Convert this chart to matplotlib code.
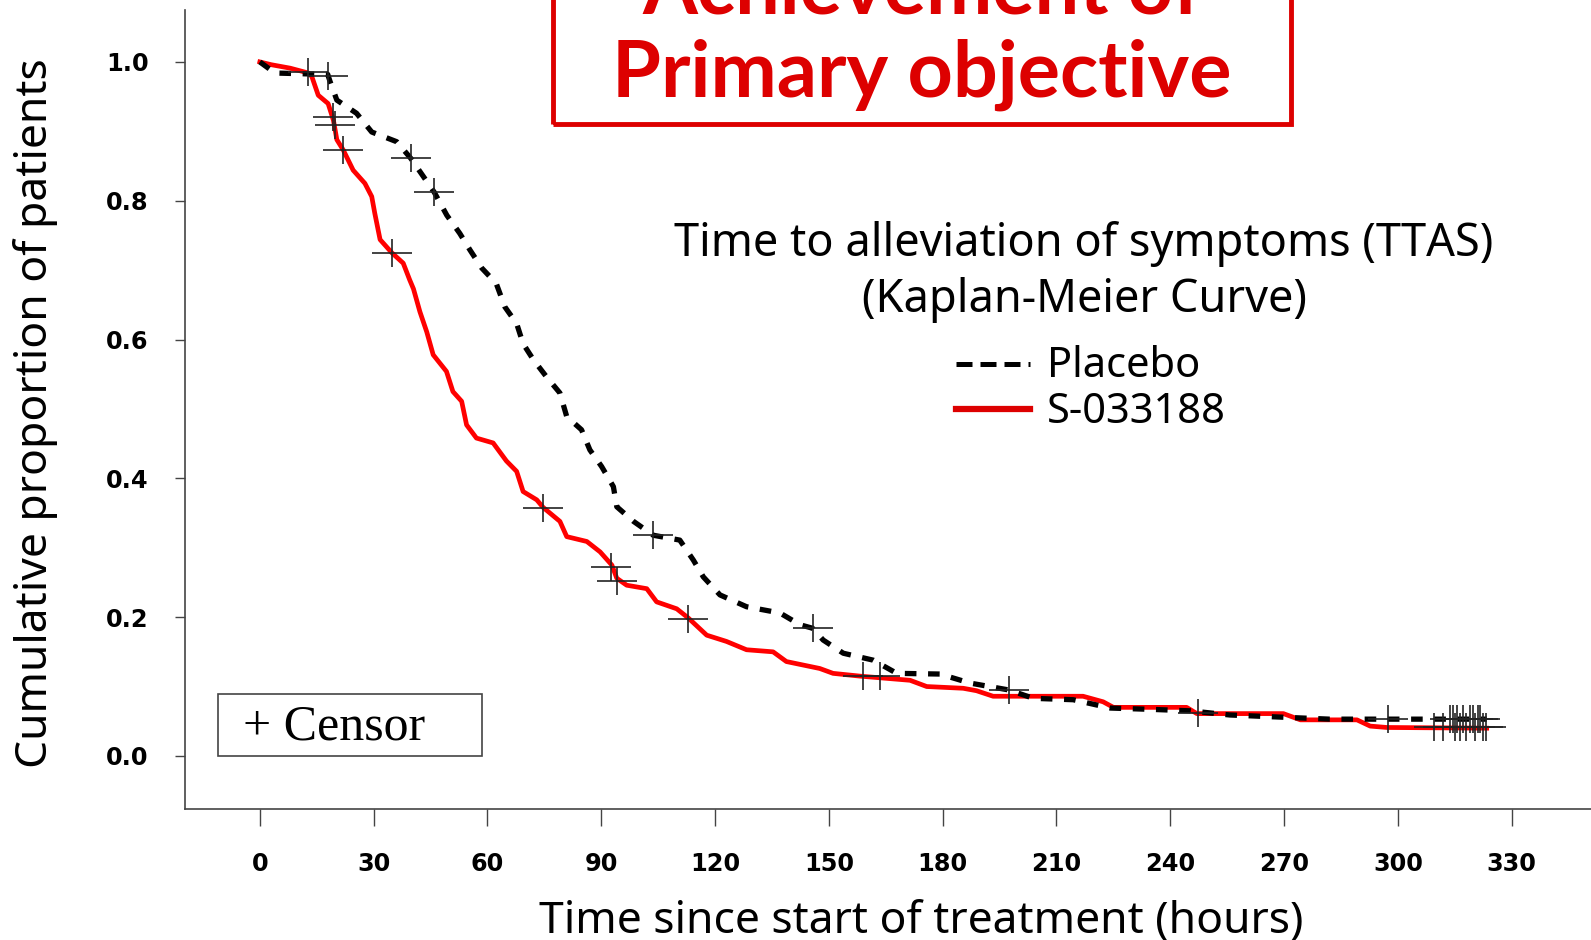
import matplotlib
matplotlib.use("Agg")
import matplotlib.pyplot as plt
from matplotlib.path import Path
from matplotlib.lines import Line2D
from matplotlib.patches import Rectangle

# Kaplan-Meier curve points (hours, proportion)
s033188_t = [0, 3, 8, 12.8, 13.7, 15.4, 18, 19.4, 20.3, 22, 24.6, 27.7, 29.5, 30.3,
             31.7, 34.8, 37.8, 39.5, 40.5, 42.2, 44, 45.7, 49.2, 50.9, 53.2, 54.5,
             57.1, 61.5, 65, 67.7, 69.4, 73, 74.7, 79.1, 80.9, 86.2, 89.7, 92.8, 94.1,
             96.7, 102, 104.6, 109.9, 112.9, 117.8, 123, 128.3, 135.3, 138.8, 147.6,
             151.1, 158.2, 171.4, 175.8, 185.4, 188.9, 193.3, 217, 222.3, 225, 244.3,
             247, 269.8, 274.3, 289.2, 292.7, 297.1, 323.4]
s033188_s = [1.0, 0.996, 0.991, 0.984, 0.979, 0.952, 0.940, 0.916, 0.888, 0.873, 0.844,
             0.825, 0.806, 0.782, 0.744, 0.725, 0.710, 0.686, 0.673, 0.640, 0.611, 0.578,
             0.554, 0.525, 0.511, 0.477, 0.458, 0.451, 0.425, 0.410, 0.381, 0.369, 0.358,
             0.338, 0.316, 0.309, 0.294, 0.275, 0.256, 0.246, 0.241, 0.222, 0.212, 0.199,
             0.174, 0.165, 0.153, 0.150, 0.136, 0.126, 0.119, 0.115, 0.109, 0.100, 0.0975,
             0.094, 0.086, 0.086, 0.078, 0.070, 0.070, 0.061, 0.061, 0.052, 0.052, 0.043,
             0.041, 0.040]

placebo_t = [0, 4, 17.9, 18.5, 20.3, 25.5, 29.5, 36.1, 39.8, 43.1, 46, 49.3, 52.7, 55.4,
             58.5, 62.3, 64.6, 67.7, 69.4, 72.1, 75.6, 79.1, 80.9, 84.8, 87, 90.1, 93.2,
             94.1, 98.5, 103.7, 110.7, 114.3, 116.9, 121.3, 128.3, 137.1, 142.4, 145.7,
             148.5, 153.8, 161.7, 167.9, 179.3, 187.2, 197.5, 203.9, 214.4, 224.2, 235.5,
             245.2, 255.7, 282, 323.4]
placebo_s = [1.0, 0.984, 0.982, 0.972, 0.945, 0.926, 0.899, 0.885, 0.861, 0.835, 0.812,
             0.779, 0.753, 0.729, 0.703, 0.681, 0.647, 0.623, 0.594, 0.571, 0.546, 0.523,
             0.489, 0.470, 0.441, 0.417, 0.388, 0.359, 0.338, 0.318, 0.311, 0.282, 0.258,
             0.232, 0.215, 0.206, 0.189, 0.184, 0.167, 0.148, 0.138, 0.119, 0.118, 0.105,
             0.095, 0.083, 0.081, 0.069, 0.067, 0.065, 0.059, 0.053, 0.053]

# censored observations
s033188_cens_t = [12.8, 19.4, 19.9, 22, 34.8, 74.7, 92.5, 94.2, 112.9, 158.9, 163.4,
                  309.6, 311.8, 315.0, 316.3, 318.0, 320.3, 322.3, 323.1]
s033188_cens_s = [0.985, 0.921, 0.909, 0.873, 0.725, 0.357, 0.272, 0.252, 0.198, 0.115,
                  0.115, 0.041, 0.041, 0.041, 0.041, 0.041, 0.041, 0.041, 0.041]
placebo_cens_t = [17.9, 39.8, 46.0, 103.7, 145.7, 197.5, 247.4, 297.3,
                  313.7, 314.4, 315.7, 317.2, 319.1, 319.7, 321.0, 321.6]
placebo_cens_s = [0.980, 0.861, 0.812, 0.318, 0.184, 0.095, 0.062, 0.053,
                  0.053, 0.053, 0.053, 0.053, 0.053, 0.053, 0.053, 0.053]

xticks = list(range(0, 331, 30))
yticks = [0.0, 0.2, 0.4, 0.6, 0.8, 1.0]

W, H = 1591, 940
RED = "#DD0000"
SANS = "Noto Sans"


def fx(x):
    return x / W


def fy(y):
    return 1 - y / H


fig = plt.figure(figsize=(15.91, 9.40), dpi=100)
ax = fig.add_axes([0.1161, 0.1397, 0.8839, 0.8495])
ax.set_xlim(-19.8, 350.9)
ax.set_ylim(-0.076, 1.0746)

ax.plot(placebo_t, placebo_s, color="black", lw=3.8,
        linestyle=(0, (2.2, 2.2)), zorder=3)
ax.plot(s033188_t, s033188_s, color="#FF0000", lw=3.4, zorder=2)

plus = Path([(-1, 0), (1, 0), (0, -0.68), (0, 0.68)],
            [Path.MOVETO, Path.LINETO, Path.MOVETO, Path.LINETO])
for ct, cs in [(s033188_cens_t, s033188_cens_s), (placebo_cens_t, placebo_cens_s)]:
    ax.plot(ct, cs, linestyle="none", marker=plus, markersize=29,
            markeredgewidth=1.2, markeredgecolor="#222222", zorder=4)

for side in ["top", "right"]:
    ax.spines[side].set_visible(False)
for side in ["left", "bottom"]:
    ax.spines[side].set_color("#444444")
    ax.spines[side].set_linewidth(1.2)

ax.set_xticks(xticks)
ax.set_xticklabels([str(v) for v in xticks])
ax.set_yticks(yticks)
ax.set_yticklabels(["%.1f" % v for v in yticks])
ax.tick_params(axis="x", length=12.5, width=1.0, color="#444444", pad=19,
               labelsize=17.3)
ax.tick_params(axis="y", length=7, width=1.0, color="#444444", pad=19,
               labelsize=17.3)
for lab in ax.get_xticklabels() + ax.get_yticklabels():
    lab.set_fontweight("bold")

fig.text(fx(921), fy(921), "Time since start of treatment (hours)", fontsize=32,
         family=SANS, ha="center", va="center")
fig.text(fx(36), fy(413), "Cumulative proportion of patients", fontsize=32,
         family=SANS, ha="center", va="center", rotation=90)

# curve title and legend
fig.text(fx(1084), fy(244), "Time to alleviation of symptoms (TTAS)", fontsize=32.5,
         family=SANS, ha="center", va="center")
fig.text(fx(1084), fy(300), "(Kaplan-Meier Curve)", fontsize=32.5,
         family=SANS, ha="center", va="center")
fig.add_artist(Line2D([fx(956), fx(1030)], [fy(364), fy(364)], color="black",
                      lw=3.6, linestyle=(0, (3.2, 1.6)), transform=fig.transFigure))
fig.add_artist(Line2D([fx(956), fx(1030)], [fy(409), fy(409)], color=RED,
                      lw=4.5, transform=fig.transFigure))
fig.text(fx(1047), fy(366), "Placebo", fontsize=30, family=SANS, ha="left", va="center")
fig.text(fx(1047), fy(412), "S-033188", fontsize=30, family=SANS, ha="left", va="center")

# censor key
fig.add_artist(Rectangle((fx(218), fy(756)), fx(482) - fx(218), fy(694) - fy(756),
                         fill=False, ec="#444444", lw=1.2, transform=fig.transFigure))
fig.text(fx(243), fy(727), "+ Censor", fontsize=36, family="Liberation Serif",
         ha="left", va="center")

# headline box
fig.add_artist(Rectangle((fx(553), fy(124)), fx(1291) - fx(553), 0.5, fill=False,
                         ec=RED, lw=3.5, transform=fig.transFigure, clip_on=False))
fig.text(fx(922), fy(14), "Achievement of", fontsize=57, fontweight="bold",
         family="Lato", color=RED, ha="center", va="baseline")
fig.text(fx(922), fy(97), "Primary objective", fontsize=57, fontweight="bold",
         family="Lato", color=RED, ha="center", va="baseline")

fig.savefig("out.png", dpi=100)
